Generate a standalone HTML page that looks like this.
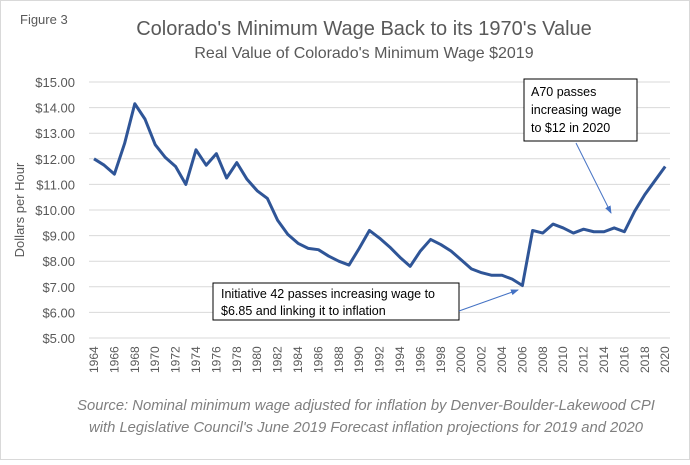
<!DOCTYPE html>
<html><head><style>
body{margin:0;background:#fff;}
</style></head><body>
<svg width="690" height="460" xmlns="http://www.w3.org/2000/svg" font-family="Liberation Sans, sans-serif">
<rect x="0.5" y="0.5" width="689" height="459" fill="#fff" stroke="#d9d9d9"/>
<text x="20" y="24" font-size="13" fill="#595959">Figure 3</text>
<text x="364" y="35" font-size="20" fill="#595959" text-anchor="middle">Colorado's Minimum Wage Back to its 1970's Value</text>
<text x="364" y="58" font-size="16" fill="#595959" text-anchor="middle">Real Value of Colorado's Minimum Wage $2019</text>
<g id="grid" stroke="#d9d9d9" stroke-width="1"></g>
<g id="yl" font-size="13" fill="#595959" text-anchor="end"></g>
<g id="xl" font-size="12" fill="#595959"></g>
<text transform="translate(24,210) rotate(-90)" font-size="13" fill="#595959" text-anchor="middle">Dollars per Hour</text>
<polyline id="line" fill="none" stroke="#2f5597" stroke-width="3" stroke-linejoin="round"/>
<rect x="524" y="79" width="113" height="62" fill="#fff" stroke="#000"/>
<text font-size="12.5" fill="#000"><tspan x="531" y="96">A70 passes</tspan><tspan x="531" y="114">increasing wage</tspan><tspan x="531" y="132">to $12 in 2020</tspan></text>
<rect x="213" y="283" width="246" height="37" fill="#fff" stroke="#000"/>
<text font-size="12.5" fill="#000"><tspan x="221" y="298">Initiative 42 passes increasing wage to</tspan><tspan x="221" y="315">$6.85 and linking it to inflation</tspan></text>
<defs><marker id="ar" markerWidth="8" markerHeight="8" refX="7" refY="4" orient="auto"><path d="M0,1 L8,4 L0,7 z" fill="#4472c4"/></marker></defs>
<line x1="576" y1="143" x2="611" y2="213" stroke="#4472c4" stroke-width="1" marker-end="url(#ar)"/>
<line x1="459" y1="311" x2="518" y2="290" stroke="#4472c4" stroke-width="1" marker-end="url(#ar)"/>
<text x="366" y="410" font-size="14.8" font-style="italic" fill="#7f7f7f" text-anchor="middle">Source: Nominal minimum wage adjusted for inflation by Denver-Boulder-Lakewood CPI</text>
<text x="366" y="432" font-size="14.8" font-style="italic" fill="#7f7f7f" text-anchor="middle">with Legislative Council's June 2019 Forecast inflation projections for 2019 and 2020</text>
</svg>
<script>
const ns="http://www.w3.org/2000/svg";
const Y=v=>338-(v-5)*25.6, X=y=>94+(y-1964)*10.2;
const g=document.getElementById('grid'),yl=document.getElementById('yl'),xl=document.getElementById('xl');
for(let v=5;v<=15;v++){const l=document.createElementNS(ns,'line');l.setAttribute('x1',89);l.setAttribute('x2',670);l.setAttribute('y1',Y(v));l.setAttribute('y2',Y(v));g.appendChild(l);
const t=document.createElementNS(ns,'text');t.setAttribute('x',75);t.setAttribute('y',Y(v)+5);t.textContent='$'+v+'.00';yl.appendChild(t);}
for(let y=1964;y<=2020;y+=2){const t=document.createElementNS(ns,'text');t.setAttribute('transform',`translate(${X(y)+4},373) rotate(-90)`);t.textContent=y;xl.appendChild(t);}
const d=[12.0,11.75,11.4,12.6,14.15,13.55,12.55,12.05,11.7,11.0,12.35,11.75,12.2,11.25,11.85,11.2,10.75,10.45,9.6,9.05,8.7,8.5,8.45,8.2,8.0,7.85,8.5,9.2,8.9,8.55,8.15,7.8,8.4,8.85,8.65,8.4,8.05,7.7,7.55,7.45,7.45,7.3,7.05,9.2,9.1,9.45,9.3,9.1,9.25,9.15,9.15,9.3,9.15,9.95,10.6,11.15,11.7];
document.getElementById('line').setAttribute('points',d.map((v,i)=>X(1964+i)+','+Y(v)).join(' '));
</script>
</body></html>
